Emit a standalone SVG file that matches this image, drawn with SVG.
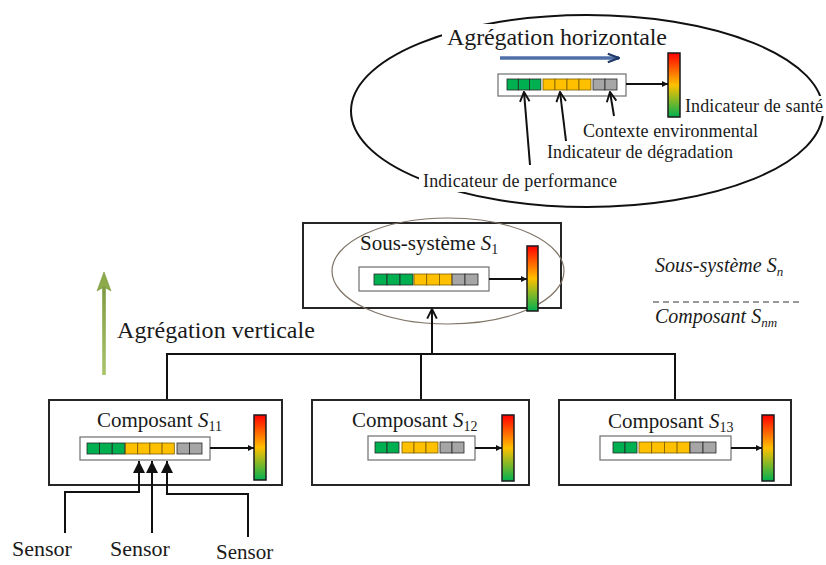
<svg xmlns="http://www.w3.org/2000/svg" width="826" height="565" viewBox="0 0 826 565">
<defs>
<style>
.t{font-family:"Liberation Serif","Times New Roman",serif;fill:#1a1a1a}
.box{fill:#fff;stroke:#262626;stroke-width:2}
.bar{fill:#fff;stroke:#6e6e6e;stroke-width:1.2}
.g{fill:#00B050;stroke:#262626;stroke-width:0.8}
.y{fill:#FFC000;stroke:#7a5c00;stroke-width:0.8}
.s{fill:#A6A6A6;stroke:#262626;stroke-width:0.8}
.gauge{fill:url(#hg);stroke:#1a1a1a;stroke-width:1.5}
.ln{fill:none;stroke:#111;stroke-width:2}
.wb{fill:#fff}
</style>
<linearGradient id="hg" x1="0" y1="0" x2="0" y2="1">
<stop offset="0" stop-color="#FF0000"/>
<stop offset="0.5" stop-color="#FFC000"/>
<stop offset="1" stop-color="#00B050"/>
</linearGradient>
<linearGradient id="vg" gradientUnits="userSpaceOnUse" x1="104" y1="375" x2="104" y2="272">
<stop offset="0" stop-color="#A9C46A"/>
<stop offset="1" stop-color="#77933C"/>
</linearGradient>
<marker id="fa" viewBox="0 0 10 10" refX="10" refY="5" markerWidth="6" markerHeight="6" markerUnits="userSpaceOnUse" orient="auto">
<path d="M0,0 L10,5 L0,10 z" fill="#111"/>
</marker>
<marker id="fa2" viewBox="0 0 10 10" refX="10" refY="5" markerWidth="12" markerHeight="12" markerUnits="userSpaceOnUse" orient="auto">
<path d="M0,0 L10,5 L0,10 z" fill="#111"/>
</marker>
<marker id="oa" viewBox="0 0 10 10" refX="9" refY="5" markerWidth="12" markerHeight="12" markerUnits="userSpaceOnUse" orient="auto">
<path d="M1,1 L9,5 L1,9" fill="none" stroke="#111" stroke-width="1.6"/>
</marker>
<marker id="ba" viewBox="0 0 10 10" refX="9" refY="5" markerWidth="14" markerHeight="14" markerUnits="userSpaceOnUse" orient="auto">
<path d="M1,2 L9,5 L1,8" fill="none" stroke="#1F3864" stroke-width="1.6"/>
</marker>
</defs>
<rect width="826" height="565" fill="#fff"/>

<g id="horizontal-aggregation">
<ellipse cx="587" cy="111" rx="236" ry="96" fill="none" stroke="#111" stroke-width="2"/>
<rect class="wb" x="442" y="24" width="228" height="28"/>
<text class="t" x="447" y="45" font-size="24" textLength="220">Agrégation horizontale</text>
<line x1="500" y1="58" x2="619" y2="58" stroke="#4F6FA8" stroke-width="3.5" marker-end="url(#ba)"/>
<rect class="bar" x="498" y="74" width="128" height="22"/>
<rect class="g" x="507" y="79" width="11.3" height="11"/><rect class="g" x="518.3" y="79" width="11.3" height="11"/><rect class="g" x="529.6" y="79" width="11.3" height="11"/>
<rect class="y" x="543" y="79" width="12" height="11"/><rect class="y" x="555" y="79" width="12" height="11"/><rect class="y" x="567" y="79" width="12" height="11"/><rect class="y" x="579" y="79" width="12" height="11"/>
<rect class="s" x="593" y="79" width="12" height="11"/><rect class="s" x="605" y="79" width="12" height="11"/>
<line class="ln" x1="626" y1="84" x2="668" y2="84" stroke-width="1.8" marker-end="url(#fa)"/>
<rect class="gauge" x="668" y="53" width="12" height="64"/>
<line class="ln" x1="530" y1="165" x2="524" y2="92" stroke-width="1.8" marker-end="url(#oa)"/>
<line class="ln" x1="566" y1="141" x2="560" y2="92" stroke-width="1.8" marker-end="url(#oa)"/>
<line class="ln" x1="614" y1="116" x2="610" y2="92" stroke-width="1.8" marker-end="url(#oa)"/>
<rect class="wb" x="682" y="96" width="143" height="20"/>
<text class="t" x="685" y="112" font-size="18" textLength="138">Indicateur de santé</text>
<rect class="wb" x="580" y="120" width="180" height="20"/>
<text class="t" x="583" y="137" font-size="18" textLength="175">Contexte environmental</text>
<rect class="wb" x="544" y="142" width="192" height="20"/>
<text class="t" x="547" y="158" font-size="18" textLength="186">Indicateur de dégradation</text>
<rect class="wb" x="419" y="171" width="201" height="21"/>
<text class="t" x="423" y="187" font-size="18" textLength="194">Indicateur de performance</text>
</g>

<g id="legend">
<text class="t" x="655" y="272" font-size="20" font-style="italic">Sous-système <tspan>S</tspan><tspan font-size="13" dy="4">n</tspan></text>
<line x1="653" y1="302" x2="802" y2="302" stroke="#333" stroke-width="1.2" stroke-dasharray="6,4"/>
<text class="t" x="655" y="323" font-size="20" font-style="italic">Composant <tspan>S</tspan><tspan font-size="13" dy="4">nm</tspan></text>
</g>

<g id="vertical-aggregation">
<rect x="102.2" y="284" width="3.6" height="91" fill="url(#vg)"/>
<path d="M104,272 L111,291 L104,287 L97,291 z" fill="#8DAA4B" stroke="#77933C" stroke-width="0.6"/>
<text class="t" x="117" y="338" font-size="24" textLength="198">Agrégation verticale</text>
</g>

<g id="subsystem-S1">
<rect class="box" x="303" y="223" width="258" height="85"/>
<ellipse cx="448" cy="271" rx="116" ry="53" fill="none" stroke="#7f7466" stroke-width="1.2"/>
<text class="t" x="360" y="250" font-size="21">Sous-système <tspan font-style="italic">S</tspan><tspan font-size="14" dy="4">1</tspan></text>
<rect class="bar" x="359" y="267" width="130" height="24"/>
<rect class="g" x="374" y="274" width="13" height="11"/><rect class="g" x="387" y="274" width="13" height="11"/><rect class="g" x="400" y="274" width="13" height="11"/>
<rect class="y" x="414" y="274" width="12.7" height="11"/><rect class="y" x="426.7" y="274" width="12.7" height="11"/><rect class="y" x="439.4" y="274" width="12.7" height="11"/>
<rect class="s" x="452" y="274" width="13" height="11"/><rect class="s" x="465" y="274" width="13" height="11"/>
<line class="ln" x1="489" y1="279" x2="527" y2="279" stroke-width="1.8" marker-end="url(#fa)"/>
<rect class="gauge" x="527" y="246" width="11" height="65"/>
</g>

<g id="component-S11">
<rect class="box" x="49" y="400" width="233" height="85"/>
<text class="t" x="97" y="427" font-size="21">Composant <tspan font-style="italic">S</tspan><tspan font-size="14" dy="4">11</tspan></text>
<rect class="bar" x="80" y="437" width="130" height="23"/>
<rect class="g" x="87" y="443" width="12.6" height="11"/><rect class="g" x="99.6" y="443" width="12.6" height="11"/><rect class="g" x="112.2" y="443" width="12.6" height="11"/>
<rect class="y" x="125.5" y="443" width="12.2" height="11"/><rect class="y" x="137.7" y="443" width="12.2" height="11"/><rect class="y" x="149.9" y="443" width="12.2" height="11"/><rect class="y" x="162.1" y="443" width="12.2" height="11"/>
<rect class="s" x="177" y="443" width="12.5" height="11"/><rect class="s" x="189.5" y="443" width="12.5" height="11"/>
<line class="ln" x1="210" y1="448" x2="254" y2="448" stroke-width="1.8" marker-end="url(#fa)"/>
<rect class="gauge" x="254" y="415" width="12" height="65"/>
</g>

<g id="component-S12">
<rect class="box" x="312" y="400" width="217" height="85"/>
<text class="t" x="352" y="427" font-size="21">Composant <tspan font-style="italic">S</tspan><tspan font-size="14" dy="4">12</tspan></text>
<rect class="bar" x="368" y="436" width="107" height="24"/>
<rect class="g" x="375" y="442" width="12" height="11"/><rect class="g" x="387" y="442" width="12" height="11"/>
<rect class="y" x="402" y="442" width="12" height="11"/><rect class="y" x="414" y="442" width="12" height="11"/><rect class="y" x="426" y="442" width="12" height="11"/>
<rect class="s" x="440" y="442" width="12" height="11"/><rect class="s" x="452" y="442" width="12" height="11"/>
<line class="ln" x1="475" y1="448" x2="502" y2="448" stroke-width="1.8" marker-end="url(#fa)"/>
<rect class="gauge" x="502" y="415" width="12" height="66"/>
</g>

<g id="component-S13">
<rect class="box" x="559" y="400" width="232" height="85"/>
<text class="t" x="608" y="428" font-size="21">Composant <tspan font-style="italic">S</tspan><tspan font-size="14" dy="4">13</tspan></text>
<rect class="bar" x="600" y="436" width="131" height="24"/>
<rect class="g" x="613" y="442" width="12" height="11"/><rect class="g" x="625" y="442" width="12" height="11"/>
<rect class="y" x="639" y="442" width="12.7" height="11"/><rect class="y" x="651.7" y="442" width="12.7" height="11"/><rect class="y" x="664.4" y="442" width="12.7" height="11"/><rect class="y" x="677.1" y="442" width="12.7" height="11"/>
<rect class="s" x="690" y="442" width="13" height="11"/><rect class="s" x="703" y="442" width="13" height="11"/>
<line class="ln" x1="731" y1="448" x2="762" y2="448" stroke-width="1.8" marker-end="url(#fa)"/>
<rect class="gauge" x="762" y="415" width="12" height="66"/>
</g>

<g id="connectors">
<polyline class="ln" points="167,399 167,354 675,354 675,399"/>
<line class="ln" x1="421" y1="354" x2="421" y2="399"/>
<line class="ln" x1="432" y1="354" x2="432" y2="309" marker-end="url(#oa)"/>
<polyline class="ln" points="65,533 65,492 139,492 139,461" marker-end="url(#fa2)"/>
<line class="ln" x1="152" y1="533" x2="152" y2="461" marker-end="url(#fa2)"/>
<polyline class="ln" points="248,537 248,494 167,494 167,461" marker-end="url(#fa2)"/>
</g>

<g id="sensors">
<text class="t" x="12" y="556" font-size="22">Sensor</text>
<text class="t" x="110" y="556" font-size="22">Sensor</text>
<text class="t" x="216" y="559" font-size="21">Sensor</text>
</g>
</svg>
